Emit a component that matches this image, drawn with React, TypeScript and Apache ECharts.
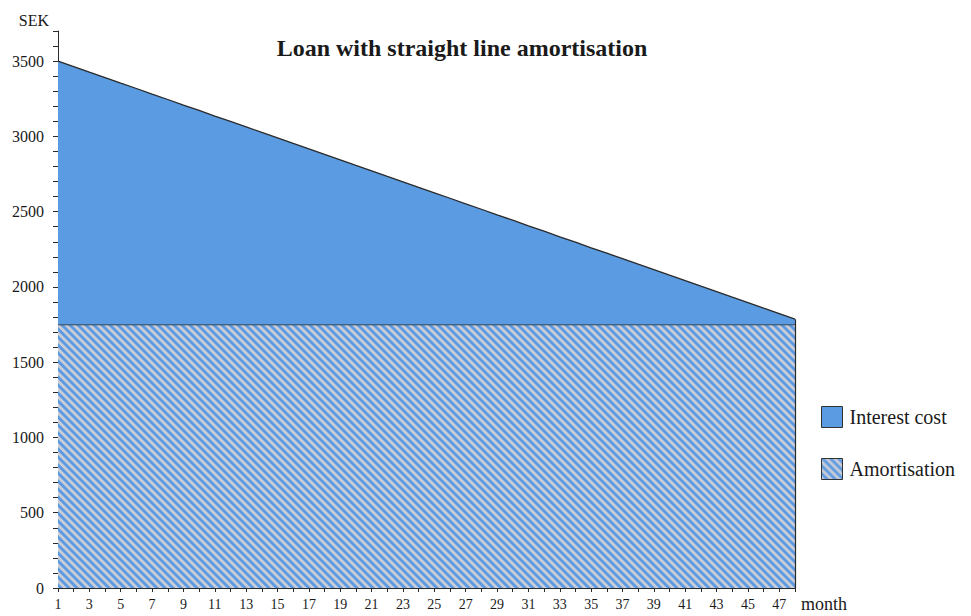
import React, { useEffect, useRef } from "react";
import * as echarts from "echarts";

const months = [
  "1", "2", "3", "4", "5", "6", "7", "8", "9", "10", "11", "12",
  "13", "14", "15", "16", "17", "18", "19", "20", "21", "22", "23", "24",
  "25", "26", "27", "28", "29", "30", "31", "32", "33", "34", "35", "36",
  "37", "38", "39", "40", "41", "42", "43", "44", "45", "46", "47", "48",
];

const amortisation = [
  1750, 1750, 1750, 1750, 1750, 1750, 1750, 1750, 1750, 1750, 1750, 1750,
  1750, 1750, 1750, 1750, 1750, 1750, 1750, 1750, 1750, 1750, 1750, 1750,
  1750, 1750, 1750, 1750, 1750, 1750, 1750, 1750, 1750, 1750, 1750, 1750,
  1750, 1750, 1750, 1750, 1750, 1750, 1750, 1750, 1750, 1750, 1750, 1750,
];

const interestCost = [
  1750, 1714, 1677, 1641, 1604, 1568, 1531, 1495, 1458, 1422, 1385, 1349,
  1313, 1276, 1240, 1203, 1167, 1130, 1094, 1057, 1021, 984, 948, 911,
  875, 839, 802, 766, 729, 693, 656, 620, 583, 547, 510, 474,
  438, 401, 365, 328, 292, 255, 219, 182, 146, 109, 73, 36,
];

const FONT = "'Liberation Serif', 'DejaVu Serif', serif";
const BLUE = "#5b9be2";
const LINE = "#2a2a2a";

function makeHatch() {
  const n = 8;
  const c = document.createElement("canvas");
  c.width = n;
  c.height = n;
  const ctx = c.getContext("2d")!;
  ctx.fillStyle = "#cbced6";
  ctx.fillRect(0, 0, n, n);
  for (let y = 0; y < n; y++) {
    for (let x = 0; x < n; x++) {
      const d = (((x - y) % n) + n) % n;
      if (d < 3) {
        ctx.fillStyle = "#5d9ae0";
        ctx.fillRect(x, y, 1, 1);
      } else if (d === 3 || d === n - 1) {
        ctx.fillStyle = "#8db2df";
        ctx.fillRect(x, y, 1, 1);
      }
    }
  }
  return { image: c, repeat: "repeat", imageWidth: n, imageHeight: n } as any;
}

export default function App() {
  const ref = useRef<HTMLDivElement>(null);

  useEffect(() => {
    if (!ref.current) return;
    const chart = echarts.init(ref.current, null, { renderer: "svg" });
    const hatch = makeHatch();
    const last = months.length - 1;
    const topLast = amortisation[last] + interestCost[last];

    chart.setOption({
      animation: false,
      backgroundColor: "#ffffff",
      textStyle: { fontFamily: FONT },
      title: {
        text: "Loan with straight line amortisation",
        left: 457,
        top: 31,
        textAlign: "center",
        textStyle: {
          fontFamily: FONT,
          fontSize: 24,
          fontWeight: "bold",
          color: "#1a1a1a",
        },
      },
      legend: {
        orient: "vertical",
        left: 816,
        top: 401,
        itemWidth: 21,
        itemHeight: 21,
        itemGap: 30,
        icon: "rect",
        textStyle: { fontFamily: FONT, fontSize: 20, color: "#1a1a1a", padding: [0, 0, 0, 2] },
        data: [
          {
            name: "Interest cost",
            icon: "rect",
            itemStyle: { color: BLUE, borderColor: "#333", borderWidth: 1 },
          },
          {
            name: "Amortisation",
            icon: "rect",
            itemStyle: { color: hatch, borderColor: "#333", borderWidth: 1 },
          },
        ],
      },
      grid: { left: 58, right: 176, top: 31, bottom: 28, containLabel: false },
      xAxis: {
        type: "category",
        data: months,
        boundaryGap: false,
        name: "month",
        nameLocation: "end",
        nameGap: 6,
        nameTextStyle: {
          fontFamily: FONT,
          fontSize: 18,
          color: "#1a1a1a",
          verticalAlign: "top",
          padding: [7, 0, 0, 0],
        },
        axisLine: { lineStyle: { color: LINE, width: 1 } },
        axisTick: { show: true, interval: 0, length: 4, lineStyle: { color: LINE } },
        axisLabel: {
          interval: 1,
          margin: 9,
          fontFamily: FONT,
          fontSize: 14,
          color: "#1a1a1a",
        },
        splitLine: { show: false },
      },
      yAxis: {
        type: "value",
        min: 0,
        max: 3700,
        interval: 100,
        name: "SEK",
        nameLocation: "end",
        nameGap: 3,
        nameTextStyle: {
          fontFamily: FONT,
          fontSize: 16,
          color: "#1a1a1a",
          align: "right",
          padding: [0, 9, 0, 0],
        },
        axisLine: { show: true, lineStyle: { color: LINE, width: 1 } },
        axisTick: { show: true, length: 5, lineStyle: { color: LINE } },
        axisLabel: {
          margin: 14,
          fontFamily: FONT,
          fontSize: 16,
          color: "#1a1a1a",
          formatter: (v: number) => (v % 500 === 0 ? String(v) : ""),
        },
        splitLine: { show: false },
      },
      series: [
        {
          name: "Amortisation",
          type: "line",
          stack: "total",
          data: amortisation,
          showSymbol: false,
          symbol: "none",
          lineStyle: { color: LINE, width: 1.5 },
          itemStyle: { color: hatch, borderColor: "#333", borderWidth: 1 },
          areaStyle: { color: hatch, opacity: 1 },
          z: 2,
        },
        {
          name: "Interest cost",
          type: "line",
          stack: "total",
          data: interestCost,
          showSymbol: false,
          symbol: "none",
          lineStyle: { color: LINE, width: 1.3 },
          itemStyle: { color: BLUE, borderColor: "#333", borderWidth: 1 },
          areaStyle: { color: BLUE, opacity: 1 },
          markLine: {
            silent: true,
            symbol: "none",
            label: { show: false },
            lineStyle: { color: LINE, width: 1.2, type: "solid" },
            data: [
              [
                { coord: [months[last], 0] },
                { coord: [months[last], topLast] },
              ],
            ],
          },
          z: 3,
        },
      ],
    });

    return () => chart.dispose();
  }, []);

  return (
    <div
      ref={ref}
      style={{ position: "fixed", left: 0, top: 0, width: 971, height: 616 }}
    />
  );
}
